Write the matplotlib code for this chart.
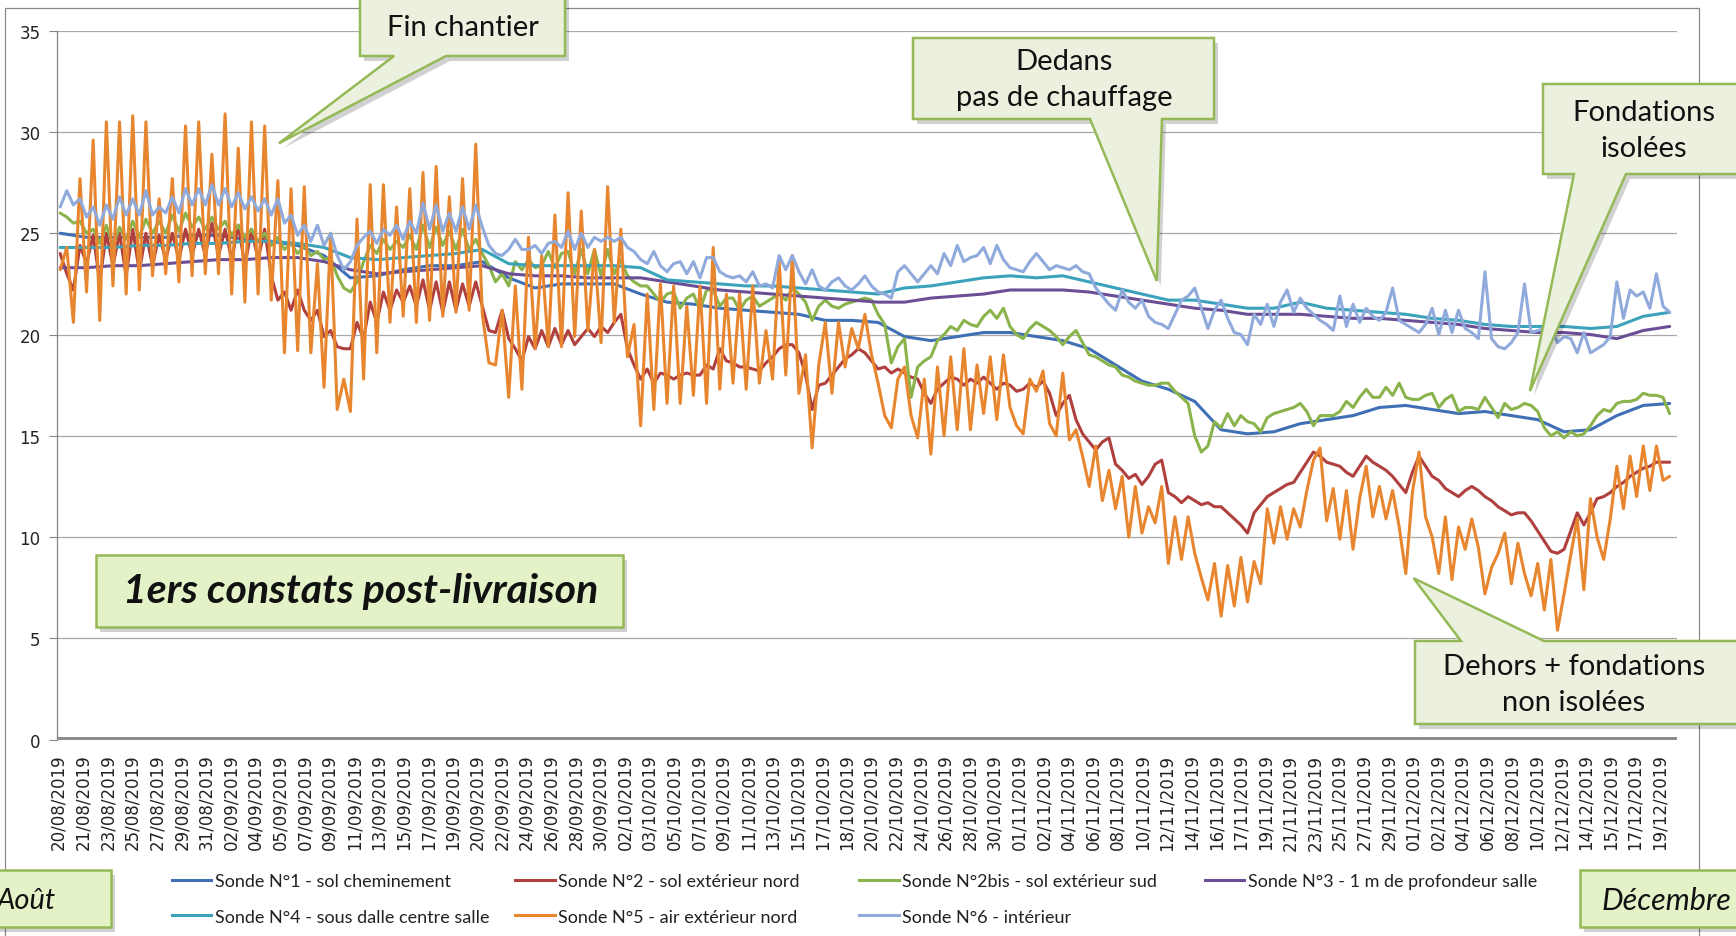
import numpy as np
import matplotlib
matplotlib.use("Agg")
import matplotlib.pyplot as plt
from matplotlib.patches import Polygon, Rectangle
from matplotlib.lines import Line2D
from matplotlib import font_manager

# ---------------------------------------------------------------- data
date_labels = [
    "20/08/2019", "21/08/2019", "23/08/2019", "25/08/2019", "27/08/2019", "29/08/2019", "31/08/2019",
    "02/09/2019", "04/09/2019", "05/09/2019", "07/09/2019", "09/09/2019", "11/09/2019", "13/09/2019",
    "15/09/2019", "17/09/2019", "19/09/2019", "20/09/2019", "22/09/2019", "24/09/2019", "26/09/2019",
    "28/09/2019", "30/09/2019",
    "02/10/2019", "03/10/2019", "05/10/2019", "07/10/2019", "09/10/2019", "11/10/2019", "13/10/2019",
    "15/10/2019", "17/10/2019", "18/10/2019", "20/10/2019", "22/10/2019", "24/10/2019", "26/10/2019",
    "28/10/2019", "30/10/2019",
    "01/11/2019", "02/11/2019", "04/11/2019", "06/11/2019", "08/11/2019", "10/11/2019", "12/11/2019",
    "14/11/2019", "16/11/2019", "17/11/2019", "19/11/2019", "21/11/2019", "23/11/2019", "25/11/2019",
    "27/11/2019", "29/11/2019",
    "01/12/2019", "02/12/2019", "04/12/2019", "06/12/2019", "08/12/2019", "10/12/2019", "12/12/2019",
    "14/12/2019", "15/12/2019", "17/12/2019", "19/12/2019",
]

# readings every half day (oscillating probes)
sonde2_sol_ext_nord = [
    24.0, 23.0, 22.2, 24.4, 23.5, 24.9, 22.6, 25.0, 23.4, 25.0,
    22.9, 25.2, 23.1, 25.0, 23.4, 24.9, 23.7, 25.0, 23.7, 25.2,
    23.9, 25.2, 23.9, 25.5, 23.9, 25.2, 23.7, 25.4, 23.4, 25.2,
    23.7, 25.2, 22.9, 21.7, 22.1, 21.2, 22.2, 21.2, 20.7, 21.2,
    19.9, 20.2, 19.4, 19.3, 19.3, 20.6, 19.8, 21.6, 20.6, 22.1,
    21.2, 22.2, 21.6, 22.4,
    21.4, 22.7, 21.2, 22.6, 21.1, 22.6, 21.2, 22.5, 21.4, 22.6,
    21.4, 20.2, 20.1, 21.2, 19.8, 19.3, 18.7, 19.9, 19.3, 20.2,
    19.4, 20.3, 19.5, 20.2, 19.5, 19.9, 20.3, 19.9, 20.4, 20.1,
    20.6, 21.0, 19.3, 18.5, 17.8, 18.3, 17.6, 18.1, 18.0, 17.8,
    18.0, 18.1, 18.0, 18.0, 18.5, 18.3, 19.3, 18.7, 18.6, 18.4,
    18.4, 18.3, 18.2, 18.6, 18.9, 19.3, 19.5,
    19.5, 19.1, 18.0, 16.3, 17.5, 17.6, 18.0, 18.4, 18.8, 19.0,
    19.3, 19.1, 18.7, 18.3, 18.4, 18.1, 18.3, 18.1, 17.9, 17.8,
    17.1, 16.6, 17.3, 17.6, 17.9, 17.8, 17.5, 17.8, 17.6, 17.9,
    17.6, 17.3, 17.6, 17.5, 17.2, 17.3, 17.6, 17.4, 17.7, 17.1,
    16.0, 16.6, 17.0, 15.8, 15.1, 14.7, 14.3, 14.7, 14.9, 13.6,
    13.3, 12.9, 13.1, 12.6, 13.0, 13.6, 13.8, 12.2, 12.0, 11.7,
    12.0, 11.8, 11.6, 11.7, 11.5, 11.5, 11.2, 10.9,
    10.6, 10.2, 11.2, 11.6, 12.0, 12.2, 12.4, 12.6, 12.7, 13.2,
    13.7, 14.2, 14.0, 13.7, 13.6, 13.5, 13.2, 13.0, 13.5, 14.0,
    13.7, 13.5, 13.3, 13.0, 12.6, 12.2, 13.2, 14.0, 13.5, 13.0,
    12.8, 12.4, 12.2, 12.0, 12.3, 12.5, 12.3, 12.0, 11.8, 11.5,
    11.3, 11.1, 11.2, 11.2, 10.8, 10.3, 9.8, 9.3, 9.2, 9.4,
    10.3, 11.2, 10.6, 11.2, 11.9, 12.0, 12.2, 12.5, 12.7, 13.0,
    13.2, 13.4, 13.5, 13.7, 13.7, 13.7,
]

sonde2bis_sol_ext_sud = [
    26.0, 25.8, 25.5, 25.6, 25.0, 25.2, 24.5, 25.4, 24.4, 25.3,
    24.7, 25.6, 24.8, 25.7, 25.0, 25.6, 25.0, 25.9, 25.1, 26.0,
    25.3, 25.8, 25.2, 25.8, 25.2, 25.6, 24.9, 25.4, 24.8, 25.2,
    24.6, 25.0, 24.4, 24.8, 24.2, 24.5, 24.0, 24.4, 23.9, 24.1,
    23.7, 23.8, 22.9, 22.3, 22.1, 22.6, 23.6, 24.4, 24.0, 24.7,
    24.2, 24.6, 24.3, 24.9,
    24.2, 25.4, 24.3, 25.3, 24.4, 25.1, 24.2, 25.2, 24.2, 24.7,
    24.0, 23.4, 22.6, 23.0, 22.4, 23.6, 23.2, 23.7, 23.3, 23.4,
    24.1, 23.3, 24.0, 24.1, 23.0, 24.2, 23.0, 24.2, 22.9, 24.2,
    23.0, 23.7, 22.9, 22.6, 22.4, 22.4, 22.0, 21.6, 22.0, 22.1,
    21.3, 21.8, 22.0, 21.2, 22.2, 22.2, 21.4, 21.8, 21.8, 21.2,
    21.7, 21.9, 21.4, 21.6, 21.8, 22.0, 21.7,
    22.3, 22.0, 21.6, 20.7, 21.4, 21.7, 21.4, 21.3, 21.5, 21.6,
    21.7, 21.8, 21.7, 21.0, 20.5, 18.6, 19.4, 19.8, 16.9, 18.4,
    18.7, 18.9, 19.7, 20.0, 20.4, 20.2, 20.7, 20.5, 20.4, 20.9,
    21.2, 20.8, 21.3, 20.4, 20.0, 19.8, 20.3, 20.6, 20.4, 20.2,
    19.9, 19.5, 19.9, 20.2, 19.6, 19.0, 18.9, 18.7, 18.5, 18.4,
    18.0, 17.9, 17.7, 17.6, 17.5, 17.5, 17.6, 17.6, 17.2, 16.9,
    16.6, 15.0, 14.2, 14.5, 15.7, 15.4, 16.1, 15.5,
    16.0, 15.7, 15.6, 15.2, 15.9, 16.1, 16.2, 16.3, 16.4, 16.6,
    16.2, 15.5, 16.0, 16.0, 16.0, 16.2, 16.7, 16.4, 16.9, 17.3,
    16.9, 16.9, 17.4, 17.0, 17.6, 16.9, 16.8, 16.8, 17.0, 17.1,
    16.4, 16.8, 17.0, 16.2, 16.4, 16.4, 16.3, 16.9, 16.4, 15.9,
    16.6, 16.3, 16.4, 16.6, 16.5, 16.2, 15.4, 15.0, 15.2, 14.9,
    15.2, 15.0, 15.1, 15.5, 16.0, 16.3, 16.2, 16.6, 16.7, 16.7,
    16.8, 17.1, 17.0, 17.0, 16.9, 16.1,
]

sonde5_air_ext_nord = [
    23.2, 24.3, 20.6, 27.7, 22.1, 29.6, 20.7, 30.5, 22.4, 30.5,
    22.0, 30.8, 22.2, 30.5, 22.9, 26.7, 23.0, 27.7, 22.6, 30.3,
    22.9, 30.5, 23.0, 28.9, 23.0, 30.9, 22.0, 29.2, 21.6, 30.5,
    22.0, 30.3, 21.7, 27.6, 19.1, 27.2, 19.2, 27.3, 19.1, 23.5,
    17.4, 25.0, 16.3, 17.8, 16.2, 25.7, 17.8, 27.4, 19.1, 27.4,
    20.6, 26.3, 20.9, 27.2,
    20.6, 28.0, 20.7, 28.3, 20.9, 26.8, 21.1, 27.7, 21.2, 29.4,
    21.0, 18.6, 18.5, 21.2, 16.9, 22.4, 17.3, 24.8, 19.3, 23.9,
    19.4, 25.9, 19.4, 27.0, 19.9, 26.1, 20.2, 24.2, 19.6, 27.3,
    20.6, 25.2, 18.9, 20.5, 15.5, 22.0, 16.3, 22.5, 16.6, 22.4,
    16.6, 21.4, 17.0, 22.4, 16.6, 24.3, 17.3, 22.0, 17.6, 22.0,
    17.3, 22.4, 17.6, 20.2, 17.8, 23.6, 18.0,
    23.9, 17.1, 19.0, 14.4, 18.5, 20.6, 17.1, 20.6, 18.4, 20.3,
    19.3, 21.0, 19.0, 17.6, 16.0, 15.4, 17.8, 18.4, 16.0, 14.9,
    17.8, 14.1, 18.4, 15.0, 18.9, 15.3, 19.3, 15.3, 18.5, 16.1,
    18.9, 15.8, 19.0, 16.4, 15.5, 15.1, 17.8, 17.2, 18.2, 15.6,
    15.0, 18.1, 14.8, 15.3, 14.0, 12.5, 14.5, 11.8, 13.3, 11.4,
    13.0, 10.0, 12.5, 10.2, 11.5, 10.7, 12.5, 8.7, 11.0, 8.9,
    11.0, 9.2, 8.0,
    6.9, 8.7, 6.1, 8.6, 6.6, 9.0, 6.8, 8.8, 7.7, 11.4,
    9.7, 11.5, 9.9, 11.4, 10.5, 12.3, 13.8, 14.4, 10.8, 12.4,
    9.9, 12.3, 9.4, 11.9, 13.5, 11.0, 12.5, 10.9, 12.3, 10.5,
    8.2, 12.2, 14.2, 11.0, 10.0, 8.2, 11.0, 7.9, 10.5, 9.4,
    10.9, 9.5, 7.2, 8.5, 9.2, 10.2, 7.7, 9.7, 8.2, 7.1,
    8.7, 6.4, 8.9, 5.4, 7.2, 9.1, 10.9, 7.4, 11.9, 10.0,
    8.9, 10.9, 13.5, 11.4, 14.0, 12.0, 14.5, 12.3, 14.5, 12.8,
    13.0,
]

sonde6_interieur = [
    26.3, 27.1, 26.4, 26.7, 25.8, 26.3, 25.4, 26.4, 25.7, 26.8,
    25.9, 26.7, 25.9, 27.1, 25.9, 26.3, 26.0, 26.8, 26.0, 27.2,
    26.4, 27.2, 26.4, 27.4, 26.4, 27.2, 26.3, 27.0, 26.2, 26.8,
    26.1, 26.7, 25.9, 26.7, 25.5, 25.9, 24.9, 25.4, 24.6, 25.4,
    24.4, 25.0, 23.9, 23.2, 23.6, 24.4, 24.8, 25.1, 24.5, 25.2,
    24.9, 25.4, 24.7, 25.6,
    25.0, 26.5, 25.2, 26.4, 25.1, 26.0, 25.1, 26.3, 25.2, 26.4,
    25.3, 24.4, 24.0, 23.9, 24.2, 24.7, 24.2, 24.2, 24.4, 24.0,
    24.5, 24.6, 24.3, 25.1, 24.2, 25.0, 24.3, 24.8, 24.6, 24.8,
    24.6, 24.8, 24.3, 24.1, 23.7, 23.5, 24.1, 23.4, 23.1, 23.5,
    23.6, 23.0, 23.6, 22.8, 23.8, 23.8, 23.1, 22.9, 22.8, 22.9,
    22.6, 23.1, 22.4, 22.5, 22.3, 23.9, 23.2,
    23.9, 23.1, 22.5, 23.2, 22.4, 22.2, 22.6, 22.8, 22.4, 22.2,
    22.5, 22.9, 22.4, 22.1, 22.0, 21.8, 23.1, 23.4, 23.0, 22.6,
    23.0, 23.4, 23.0, 24.0, 23.4, 24.4, 23.6, 23.8, 23.9, 24.3,
    23.5, 24.4, 23.7, 23.3, 23.2, 23.1, 23.6, 24.0, 23.6, 23.2,
    23.4, 23.3, 23.2, 23.4, 23.1, 23.0, 22.3, 21.9, 21.5, 21.2,
    22.2, 21.6, 21.3, 21.7, 20.9, 20.6, 20.5, 20.3, 21.0, 21.7,
    21.9, 22.3, 21.3, 20.3, 21.2, 21.7, 20.8, 20.1,
    20.0, 19.5, 21.0, 20.5, 21.5, 20.4, 21.6, 22.2, 21.1, 21.8,
    21.3, 21.0, 20.7, 20.5, 20.2, 21.9, 20.4, 21.5, 20.6, 21.3,
    20.9, 20.7, 21.1, 22.3, 20.7, 20.5, 20.3, 20.1, 20.5, 21.3,
    20.0, 21.2, 20.1, 21.2, 20.3, 20.1, 19.8, 23.1, 19.8, 19.4,
    19.3, 19.6, 20.1, 22.5, 20.1, 20.2, 20.3, 20.4, 19.6, 19.9,
    19.8, 19.1, 20.1, 19.1, 19.3, 19.5, 19.9, 22.6, 20.8, 22.2,
    21.9, 22.1, 21.3, 23.0, 21.4, 21.1,
]

# readings every two days (slow probes)
sonde1_sol_cheminement = [
    25.0, 24.8, 24.8, 24.8, 24.8, 24.9, 24.9, 24.7, 24.6, 24.4, 23.9, 22.8, 22.9, 23.2,
    23.4, 23.4, 23.6, 22.8, 22.3, 22.5, 22.5, 22.5, 22.0, 21.6, 21.5, 21.3, 21.2, 21.1,
    21.0, 20.7, 20.7, 20.6, 19.9, 19.7, 19.9, 20.1, 20.1, 19.9, 19.7, 19.3, 18.5, 17.7, 17.3, 16.7, 15.3,
    15.1, 15.2, 15.6, 15.8, 16.0, 16.4, 16.5, 16.3, 16.1, 16.2, 16.0, 15.8, 15.2, 15.3, 16.0, 16.5, 16.6,
]
sonde3_profondeur_salle = [
    23.3, 23.3, 23.4, 23.4, 23.5, 23.6, 23.7, 23.7, 23.8, 23.8, 23.6, 23.2, 23.0, 23.1,
    23.2, 23.3, 23.4, 23.0, 22.9, 22.9, 22.8, 22.8, 22.8, 22.6, 22.4, 22.2, 22.1, 22.0,
    21.9, 21.8, 21.7, 21.6, 21.6, 21.8, 21.9, 22.0, 22.2, 22.2, 22.2, 22.1, 21.9, 21.7, 21.5, 21.3, 21.2,
    21.0, 21.0, 21.0, 20.9, 20.8, 20.8, 20.7, 20.6, 20.5, 20.3, 20.2, 20.1, 20.1, 20.0, 19.8, 20.2, 20.4,
]
sonde4_sous_dalle = [
    24.3, 24.3, 24.3, 24.4, 24.4, 24.5, 24.5, 24.6, 24.6, 24.5, 24.3, 23.8, 23.7, 23.8,
    23.9, 24.0, 24.2, 23.5, 23.4, 23.4, 23.4, 23.4, 23.3, 22.7, 22.6, 22.5, 22.4, 22.4,
    22.3, 22.2, 22.1, 22.0, 22.3, 22.4, 22.6, 22.8, 22.9, 22.8, 22.9, 22.6, 22.3, 22.0, 21.7, 21.7, 21.5,
    21.3, 21.3, 21.6, 21.3, 21.2, 21.1, 21.0, 20.8, 20.7, 20.5, 20.4, 20.4, 20.4, 20.3, 20.4, 20.9, 21.1,
]

series_labels = [
    "Sonde N°1 - sol cheminement",
    "Sonde N°2 - sol extérieur nord",
    "Sonde N°2bis - sol extérieur sud",
    "Sonde N°3 - 1 m de profondeur salle",
    "Sonde N°4 - sous dalle centre salle",
    "Sonde N°5 - air extérieur nord",
    "Sonde N°6 - intérieur",
]
series_colors = ["#3F6FB5", "#B0403D", "#8AB34C", "#6B4E96", "#3BA2BB", "#E8862F", "#8FAADB"]

# sampling on the category axis (labels are ~2 days apart)
FIRST_SAMPLE = 0.06
HALF_DAY = 0.2678

def x_for(values, every):
    return FIRST_SAMPLE + HALF_DAY * every * np.arange(len(values))

series = [
    (sonde1_sol_cheminement, 4),
    (sonde2_sol_ext_nord, 1),
    (sonde2bis_sol_ext_sud, 1),
    (sonde3_profondeur_salle, 4),
    (sonde4_sous_dalle, 4),
    (sonde5_air_ext_nord, 1),
    (sonde6_interieur, 1),
]

# ---------------------------------------------------------------- fonts
names = {f.name for f in font_manager.fontManager.ttflist}
HAVE_LATO = "Lato" in names
CALL_FONT = "Lato" if HAVE_LATO else "DejaVu Sans"
SCALE = 1.0 if HAVE_LATO else 0.9
LEG_FONT = CALL_FONT
LEG_SIZE = 13.0 * SCALE

# ---------------------------------------------------------------- figure
W, H = 1736, 937
fig = plt.figure(figsize=(W / 100, H / 100), dpi=100)
fig.patch.set_facecolor("white")

def fp(x, y):
    return (x / W, 1 - y / H)

ax_l, ax_r, ax_t, ax_b = 57.3, 1676.7, 31.7, 740.7
ax = fig.add_axes([ax_l / W, 1 - ax_b / H, (ax_r - ax_l) / W, (ax_b - ax_t) / H])

lines = []
for (vals, every), lab, col in zip(series, series_labels, series_colors):
    ln, = ax.plot(x_for(vals, every), vals, color=col, lw=2.2, label=lab,
                  solid_joinstyle="round", solid_capstyle="round", zorder=2)
    lines.append(ln)

ax.set_xlim(-0.057, 65.69)
ax.set_ylim(0, 35)
ax.set_yticks(range(0, 36, 5))
ax.set_xticks(range(len(date_labels)))
ax.set_xticklabels(date_labels, rotation=90, fontsize=12, color="#222222")
ax.tick_params(axis="x", length=0, pad=10)
ax.tick_params(axis="y", labelsize=12, length=6, color="#868686", pad=6, labelcolor="#222222")
ax.yaxis.grid(True, color="#A8A8A8", lw=0.9)
ax.set_axisbelow(True)
for s in ["top", "right", "bottom"]:
    ax.spines[s].set_visible(False)
ax.spines["left"].set_color("#868686")
ax.spines["left"].set_linewidth(0.9)
ax.axhline(0, color="#8C8C8C", lw=5, solid_capstyle="butt", zorder=2.5)

# outer chart frame
fig.add_artist(Rectangle(fp(5, 990), (1699 - 5) / W, (990 - 9.3) / H, transform=fig.transFigure,
                         fill=False, edgecolor="#8A8A8A", lw=0.9, zorder=0.5))

# ---------------------------------------------------------------- legend
col_x = [171.6, 514.8, 859.0, 1204.6]
row_y = [882.4, 917.8]
legend_slots = [(0, 0), (1, 0), (2, 0), (3, 0), (0, 1), (1, 1), (2, 1)]
for ln, (c, r) in zip(lines, legend_slots):
    h = Line2D([], [], color=ln.get_color(), lw=2.2)
    leg = fig.legend([h], [ln.get_label()], loc="center left", bbox_to_anchor=fp(col_x[c], row_y[r]),
                     bbox_transform=fig.transFigure, frameon=False, handlelength=2.2,
                     handletextpad=0.18, borderpad=0, borderaxespad=0,
                     prop={"family": LEG_FONT, "size": LEG_SIZE})
    for t in leg.get_texts():
        t.set_color("#222222")

# ---------------------------------------------------------------- callouts
FILL = "#EBF1DE"
EDGE = "#95B956"

def tip_px(xd, yd):
    fx, fy = fig.transFigure.inverted().transform(ax.transData.transform((xd, yd)))
    return fx * W, (1 - fy) * H

def draw_shape(verts, fill):
    sh = [fp(x + 4, y + 5) for x, y in verts]
    fig.add_artist(Polygon(sh, closed=True, transform=fig.transFigure, facecolor="#000000",
                           alpha=0.18, edgecolor="none", zorder=4))
    pts = [fp(x, y) for x, y in verts]
    fig.add_artist(Polygon(pts, closed=True, transform=fig.transFigure, facecolor=fill,
                           edgecolor=EDGE, lw=1.8, joinstyle="miter", zorder=5))

def callout_bottom(box, base, tip):
    x0, y0, x1, y1 = box
    t = tip_px(*tip)
    draw_shape([(x0, y0), (x1, y0), (x1, y1), (base[1], y1), t, (base[0], y1), (x0, y1)], FILL)

def callout_top(box, base, tip):
    x0, y0, x1, y1 = box
    t = tip_px(*tip)
    draw_shape([(x0, y0), (base[0], y0), t, (base[1], y0), (x1, y0), (x1, y1), (x0, y1)], FILL)

def plain_box(box, fill):
    x0, y0, x1, y1 = box
    draw_shape([(x0, y0), (x1, y0), (x1, y1), (x0, y1)], fill)

callout_bottom((360, -20, 565, 57), (394, 446), (8.94, 29.44))
callout_bottom((913, 39, 1214, 120), (1090, 1162), (44.58, 22.65))
callout_bottom((1543, 85, 1750, 175), (1574, 1626), (59.73, 17.21))
callout_top((1415, 642, 1750, 725), (1461, 1544), (55.01, 7.97))
plain_box((96, 556, 623, 628), "#E4F2C8")
plain_box((-15, 871, 111, 928), "#E4F2C8")
plain_box((1580, 871, 1750, 928), "#E4F2C8")

def ftext(x, y, s, size, **kw):
    fig.text(*fp(x, y), s, transform=fig.transFigure, zorder=6, color="#111111",
             family=CALL_FONT, fontsize=size * SCALE, **kw)

ftext(463, 28, "Fin chantier", 21, ha="center", va="center")
ftext(1064, 80, "Dedans\npas de chauffage", 21, ha="center", va="center", linespacing=1.5)
ftext(1644, 131, "Fondations\nisolées", 21, ha="center", va="center", linespacing=1.5)
ftext(1574, 685, "Dehors + fondations\nnon isolées", 21, ha="center", va="center", linespacing=1.5)
ftext(361, 592, "1ers constats post-livraison", 29.5, ha="center", va="center",
      fontweight="bold", fontstyle="italic")
ftext(-3, 901, "Août", 21, ha="left", va="center", fontstyle="italic")
ftext(1666, 901, "Décembre", 22, ha="center", va="center", fontstyle="italic")

fig.savefig("out.png", dpi=100, facecolor="white")
